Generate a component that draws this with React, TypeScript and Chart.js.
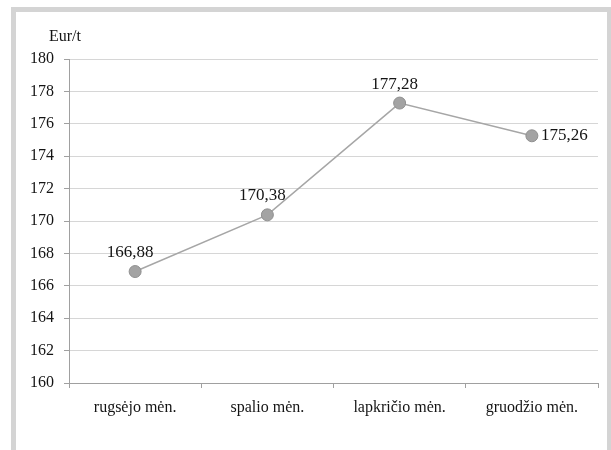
import React, { useEffect, useRef } from "react";
import { Chart, registerables } from "chart.js";

Chart.register(...registerables);

const categories = ["rugsėjo mėn.", "spalio mėn.", "lapkričio mėn.", "gruodžio mėn."];
const prices = [166.88, 170.38, 177.28, 175.26];
const yMin = 160;
const yMax = 180;
const yStep = 2;
const unitLabel = "Eur/t";

const FONT = "'Liberation Serif', 'Times New Roman', serif";
const TEXT = "#141414";

const labelPlugin = {
  id: "valueLabels",
  afterDatasetsDraw(chart: any) {
    const ctx = chart.ctx;
    const meta = chart.getDatasetMeta(0);
    ctx.save();
    ctx.font = `17px ${FONT}`;
    ctx.fillStyle = TEXT;
    meta.data.forEach((pt: any, i: number) => {
      const txt = prices[i].toFixed(2).replace(".", ",");
      if (i === prices.length - 1) {
        ctx.textAlign = "left";
        ctx.textBaseline = "middle";
        ctx.fillText(txt, pt.x + 9, pt.y);
      } else {
        ctx.textAlign = "center";
        ctx.textBaseline = "middle";
        ctx.fillText(txt, pt.x - 5, pt.y - 19);
      }
    });
    const area = chart.chartArea;
    ctx.textAlign = "left";
    ctx.textBaseline = "middle";
    ctx.font = `16px ${FONT}`;
    ctx.fillText(unitLabel, area.left - 20, area.top - 22);
    ctx.restore();
  },
};

export default function App() {
  const ref = useRef<HTMLCanvasElement | null>(null);

  useEffect(() => {
    if (!ref.current) return;
    const chart = new Chart(ref.current, {
      type: "line",
      data: {
        labels: categories,
        datasets: [
          {
            data: prices,
            borderColor: "#a6a6a6",
            borderWidth: 1.5,
            pointRadius: 6,
            pointBackgroundColor: "#a3a3a3",
            pointBorderColor: "#8f8f8f",
            pointBorderWidth: 1,
            tension: 0,
          },
        ],
      },
      options: {
        responsive: false,
        animation: false,
        devicePixelRatio: 1,
        layout: { padding: { top: 59, left: 0, right: 13, bottom: 16 } },
        plugins: {
          legend: { display: false },
          tooltip: { enabled: false },
          title: { display: false },
        },
        scales: {
          x: {
            type: "category",
            offset: true,
            afterFit: (s: any) => {
              s.height = 51;
            },
            grid: {
              offset: true,
              drawOnChartArea: false,
              drawTicks: true,
              tickLength: 5,
              tickColor: "#a0a0a0",
            },
            border: { display: true, color: "#a0a0a0", width: 1 },
            ticks: {
              color: TEXT,
              font: { family: FONT, size: 16 },
              padding: 10,
              maxRotation: 0,
              autoSkip: false,
            },
          },
          y: {
            min: yMin,
            max: yMax,
            afterFit: (s: any) => {
              s.width = 69;
            },
            grid: {
              color: "#d6d6d6",
              lineWidth: 1,
              drawTicks: true,
              tickLength: 5,
              tickColor: "#a0a0a0",
            },
            border: { display: true, color: "#a0a0a0", width: 1 },
            ticks: {
              stepSize: yStep,
              color: TEXT,
              font: { family: FONT, size: 16 },
              padding: 10,
            },
          },
        },
      },
      plugins: [labelPlugin],
    });
    return () => chart.destroy();
  }, []);

  return (
    <div
      style={{
        position: "absolute",
        left: 0,
        top: 0,
        width: 611,
        height: 450,
        overflow: "hidden",
        background: "#ffffff",
      }}
    >
      <div
        style={{
          position: "absolute",
          left: 11,
          top: 7,
          width: 591,
          height: 520,
          borderTop: "5px solid #d4d4d4",
          borderLeft: "5px solid #d4d4d4",
          borderRight: "4px solid #d4d4d4",
          background: "#ffffff",
        }}
      />
      <canvas
        ref={ref}
        width={611}
        height={450}
        style={{ position: "absolute", left: 0, top: 0, width: 611, height: 450 }}
      />
    </div>
  );
}
